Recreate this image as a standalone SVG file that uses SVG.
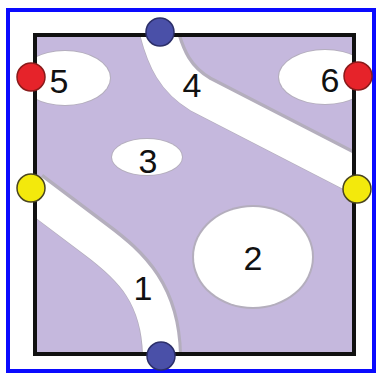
<svg xmlns="http://www.w3.org/2000/svg" width="379" height="375" viewBox="0 0 379 375">
<style>
.lbl{font-family:"Liberation Sans",Arial,sans-serif;font-size:34px;fill:#111;text-anchor:middle}
.band{fill:none;stroke:#fff;stroke-width:36}
.bandsh{fill:none;stroke:#b4aebd;stroke-width:40}
.hole{fill:#fff}
.holesh{fill:#b4aebd}
.port{stroke-width:1.5}
.blue{fill:#4a50a8;stroke:#2c2f6a}
.red{fill:#e6232a;stroke:#8a1a1a}
.yel{fill:#f3e90c;stroke:#4a4520}
</style>
<defs>
<clipPath id="sq"><rect x="35" y="35" width="319" height="319"/></clipPath>
</defs>
<rect x="0" y="0" width="379" height="375" fill="#fff"/>
<rect x="8" y="10" width="366" height="361" fill="#fff" stroke="#0a0aff" stroke-width="4"/>
<g id="region">
<rect x="35" y="35" width="319" height="319" fill="#c5b8dd"/>
<g clip-path="url(#sq)">
<path class="bandsh" d="M157 28 C165 60 175 80 200 95 L365 180" transform="translate(1,-1)"/>
<path class="bandsh" d="M30 191 L95 240 C130 266 162 295 161 362" transform="translate(1,-1)"/>
<ellipse class="holesh" cx="65" cy="78" rx="46" ry="28"/>
<ellipse class="holesh" cx="325" cy="77" rx="47" ry="28"/>
<ellipse class="holesh" cx="147" cy="157" rx="36" ry="19"/>
<ellipse class="holesh" cx="253" cy="257" rx="61" ry="52"/>
<path class="band" d="M157 28 C165 60 175 80 200 95 L365 180"/>
<path class="band" d="M30 191 L95 240 C130 266 162 295 161 362"/>
<ellipse class="hole" cx="65" cy="78" rx="45" ry="27"/>
<ellipse class="hole" cx="325" cy="77" rx="46" ry="27"/>
<ellipse class="hole" cx="147" cy="157" rx="35" ry="18"/>
<ellipse class="hole" cx="253" cy="257" rx="59" ry="50"/>
</g>
<rect x="35" y="35" width="319" height="319" fill="none" stroke="#111" stroke-width="4"/>
</g>
<g id="labels">
<text class="lbl" x="59" y="93">5</text>
<text class="lbl" x="330" y="92">6</text>
<text class="lbl" x="192" y="97">4</text>
<text class="lbl" x="148" y="173">3</text>
<text class="lbl" x="253" y="270">2</text>
<text class="lbl" x="143" y="300">1</text>
</g>
<g id="port-top"><circle class="port blue" cx="160" cy="32" r="14"/></g>
<g id="port-bottom"><circle class="port blue" cx="161" cy="356" r="14"/></g>
<g id="port-red-left"><circle class="port red" cx="31" cy="77" r="14"/></g>
<g id="port-red-right"><circle class="port red" cx="358" cy="76" r="14"/></g>
<g id="port-yellow-left"><circle class="port yel" cx="31" cy="188" r="14"/></g>
<g id="port-yellow-right"><circle class="port yel" cx="357" cy="189" r="14"/></g>
</svg>
